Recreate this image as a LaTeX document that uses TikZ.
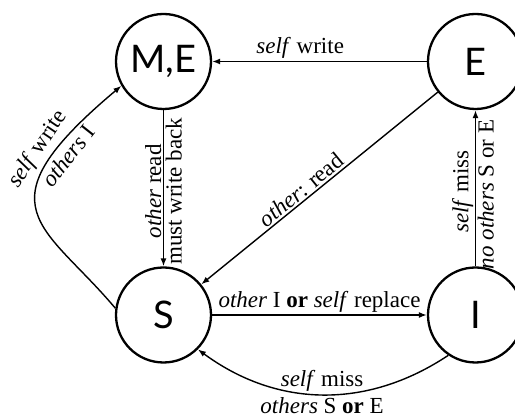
\documentclass[tikz,border=0pt]{standalone}
\usepackage{fontspec}
\setmainfont{Liberation Serif}
\newfontfamily\statefont{Lato}
\usetikzlibrary{arrows.meta}
\begin{document}
\begin{tikzpicture}[x=1pt,y=1pt,
  state/.style={circle, draw, line width=2.3pt, minimum size=95pt, inner sep=0pt,
    font=\statefont\fontsize{38}{40}\selectfont},
  edge/.style={line width=1.4pt, -{Latex[length=8pt,width=6pt]}},
  lbl/.style={font=\fontsize{23}{25}\selectfont, inner sep=2pt}]
\useasboundingbox (0,0) rectangle (515,417);
\node[state] (ME) at (163.5,355.5) {M,E};
\node[state] (E)  at (475.5,355.5) {E};
\node[state] (S)  at (163.5,102) {S};
\node[state] (I)  at (475.5,102) {I};

% E -> M,E
\draw[edge] (E) -- node[lbl, above, pos=0.59] {\textit{self} write} (ME);

% M,E -> S
\draw[edge] (ME) -- (S);
\path (S) -- (ME)
  node[lbl, sloped, above, pos=0.48] {\textit{other} read}
  node[lbl, sloped, below, pos=0.48] {must write back};

% I -> E
\draw[edge] (I) -- (E);
\path (I) -- (E)
  node[lbl, sloped, above, pos=0.48] {\textit{self} miss}
  node[lbl, sloped, below, pos=0.46] {\textit{no others} S or E};

% E -> S
\draw[edge] (E) -- (S);
\path (S) -- (E) node[lbl, sloped, above, pos=0.45] {\textit{other}: read};

% S -> I
\draw[edge] (S) -- node[lbl, above] {\textit{other} I \textbf{or} \textit{self} replace} (I);

% S -> M,E (curved)
\draw[edge] (S.172) .. controls +(130:110) and +(220:190) .. (ME.210)
  node[lbl, sloped, above, pos=0.76, inner sep=4pt] {\textit{self} write}
  node[lbl, sloped, below, pos=0.8, inner sep=4pt] {\textit{others} I};

% I -> S (curved)
\draw[edge] (I.236) to[bend left=35]
  node[lbl, above, pos=0.5] {\textit{self} miss}
  node[lbl, below, pos=0.5] {\textit{others} S \textbf{or} E}
  (S.315);
\end{tikzpicture}
\end{document}
